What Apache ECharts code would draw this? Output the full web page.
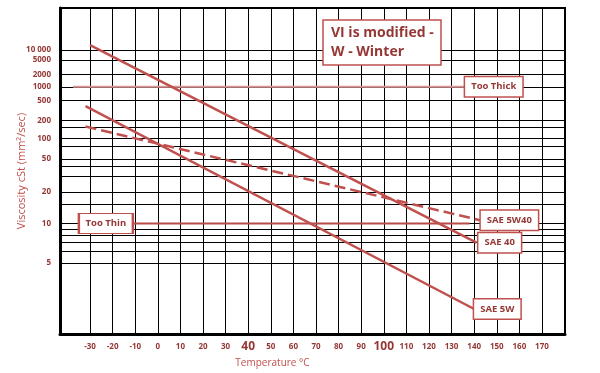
<!DOCTYPE html>
<html>
<head>
<meta charset="utf-8">
<script src="https://cdn.jsdelivr.net/npm/echarts@6/dist/echarts.min.js"></script>
<style>html,body{margin:0;padding:0;background:#fff}#c{width:600px;height:373px}</style>
</head>
<body>
<div id="c"></div>
<script>
// ---- data ----
const tempTicks = [-30,-20,-10,0,10,20,30,40,50,60,70,80,90,100,110,120,130,140,150,160,170];
const viscLabels = [10000,5000,2000,1000,500,200,100,50,20,10,5];
const viscGrid = [10000,5000,2000,1000,500,200,150,100,75,50,40,30,20,15,10,9,8,7,6,5];
const sae40 = [[-30, 14400], [141, 7.0]];
const sae5w = [[-32, 380], [140, 2.67]];
const sae5w40 = [[-32, 157], [142.5, 10.7]];
const tooThick = [[-37.5, 1000], [136, 1000]];
const tooThin = [[-23, 10], [138, 10]];
const titleText = 'VI is modified -\nW - Winter';

// Walther (ASTM D341) viscosity scale
const W = v => Math.log10(Math.log10(v + 0.7));
const toW = arr => arr.map(p => [p[0], W(p[1])]);

const dark = '#953735', red = '#c0504d';
const font = "'Open Sans', 'Liberation Sans', sans-serif";

function boxLabel(text, dist) {
  return {
    show: true, formatter: text, distance: dist,
    backgroundColor: '#fff', borderColor: red, borderWidth: 1.5,
    padding: [5, 6, 4, 6], color: dark, fontWeight: 'bold', fontSize: 9.5, fontFamily: font
  };
}

const chart = echarts.init(document.getElementById('c'), null, {renderer: 'canvas'});
chart.setOption({
  animation: false,
  backgroundColor: '#fff',
  title: {
    text: titleText, left: 323, top: 20,
    backgroundColor: '#fff', borderColor: red, borderWidth: 1.5,
    padding: [4, 8, 3, 8],
    textStyle: {fontSize: 14, fontWeight: 'bold', color: dark, lineHeight: 19, fontFamily: font}
  },
  grid: {left: 60, right: 35, top: 8, bottom: 39, show: true, borderColor: '#000', borderWidth: 2, backgroundColor: '#fff'},
  xAxis: {
    type: 'value', min: -43.3, max: 180.2,
    name: 'Temperature °C', nameLocation: 'middle', nameGap: 24,
    nameTextStyle: {color: red, fontSize: 10, fontFamily: font, padding: [0, 80, 0, 0]},
    axisLine: {show: true, onZero: false, lineStyle: {color: '#000', width: 3}},
    axisTick: {show: false, customValues: tempTicks},
    splitLine: {show: true, lineStyle: {color: '#000', width: 1}},
    axisLabel: {
      customValues: tempTicks, margin: 5,
      formatter: v => (v === 40 || v === 100) ? '{b|' + v + '}' : '{s|' + v + '}',
      rich: {
        s: {fontSize: 8, fontWeight: 'bold', color: dark, fontFamily: font, lineHeight: 16, verticalAlign: 'middle'},
        b: {fontSize: 12, fontWeight: 'bold', color: dark, fontFamily: font, lineHeight: 16, verticalAlign: 'middle'}
      }
    }
  },
  yAxis: {
    type: 'value', min: -0.3626, max: 0.7447,
    name: 'Viscosity cSt (mm²/sec)', nameLocation: 'middle', nameGap: 33, nameMoveOverlap: false,
    nameTextStyle: {color: red, fontSize: 11, fontFamily: font},
    axisLine: {show: true, onZero: false, lineStyle: {color: '#000', width: 3}},
    axisTick: {show: false, customValues: viscGrid.map(W)},
    splitLine: {show: true, lineStyle: {color: '#000', width: 1}},
    axisLabel: {
      customValues: viscLabels.map(W), margin: 9,
      fontSize: 8, fontWeight: 'bold', color: dark, fontFamily: font,
      formatter: w => {
        let best = viscLabels[0], d = 1e9;
        viscLabels.forEach(v => { const e = Math.abs(W(v) - w); if (e < d) { d = e; best = v; } });
        return best === 10000 ? '10 000' : String(best);
      }
    }
  },
  series: [
    {type: 'line', data: toW(tooThick), symbol: 'none', z: 3,
     lineStyle: {color: '#d99694', width: 2}, endLabel: boxLabel('Too Thick', 0)},
    {type: 'line', data: toW(tooThin), symbol: 'none', z: 3,
     lineStyle: {color: '#b84a47', width: 2},
     markPoint: {
       symbol: 'rect', symbolSize: [54, 20], silent: true,
       itemStyle: {color: '#fff', borderColor: red, borderWidth: 1.5},
       label: {show: true, formatter: 'Too Thin', color: dark, fontWeight: 'bold', fontSize: 9.5, fontFamily: font},
       data: [{coord: toW(tooThin)[0]}]
     }},
    {type: 'line', data: toW(sae40), symbol: 'none', z: 4,
     lineStyle: {color: red, width: 2.5}, endLabel: boxLabel('SAE 40', 2)},
    {type: 'line', data: toW(sae5w), symbol: 'none', z: 4,
     lineStyle: {color: red, width: 2.5}, endLabel: boxLabel('SAE 5W', 0)},
    {type: 'line', data: toW(sae5w40), symbol: 'none', z: 4,
     lineStyle: {color: red, width: 2.5, type: [11, 5]}, endLabel: boxLabel('SAE 5W40', 1)}
  ]
});
</script>
</body>
</html>
